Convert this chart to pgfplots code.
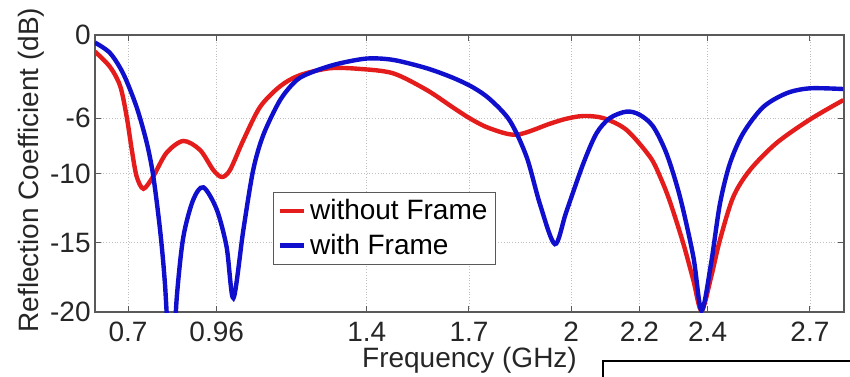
\documentclass[border=0pt]{standalone}
\usepackage{fontspec}
\setmainfont{Liberation Sans}
\usepackage{pgfplots}
\pgfplotsset{compat=1.18}
\definecolor{myred}{RGB}{228,28,28}
\definecolor{myblue}{RGB}{15,15,205}
\begin{document}
\begin{tikzpicture}
\begin{axis}[
 at={(0,0)}, anchor=south west,
 scale only axis, width=374.5pt, height=138.5pt,
 xmin=0.603, xmax=2.80, ymin=-20, ymax=0,
 xtick={0.7,0.96,1.4,1.7,2,2.2,2.4,2.7},
 xticklabels={0.7,0.96,1.4,1.7,2,2.2,2.4,2.7},
 ytick={-20,-15,-10,-6,0},
 yticklabels={-20,-15,-10,-6,0},
 tick align=inside, major tick length=3pt,
 tick style={gray!70!black, line width=0.5pt},
 axis line style={gray!70!black, line width=0.6pt},
 grid=major, grid style={densely dotted, gray!50, line width=0.4pt},
 font=\fontsize{14}{16}\selectfont,
 ticklabel style={font=\fontsize{14}{16}\selectfont, text=black!85},
 xticklabel style={anchor=north, inner sep=0pt, yshift=-5pt},
 yticklabel style={anchor=east, inner sep=0pt, xshift=-2pt},
 xlabel={Frequency (GHz)}, ylabel={Reflection Coefficient (dB)},
 label style={font=\fontsize{14}{16}\selectfont, text=black!85},
 xlabel style={at={(axis description cs:0.5,-0.126)}, anchor=north, inner sep=0pt},
 ylabel style={at={(axis description cs:-0.0668,0.512)}, anchor=south, inner sep=0pt},
 clip=true,
 legend style={at={(axis description cs:0.238,0.433)}, anchor=north west,
   draw=gray!70!black, fill=white, font=\fontsize{14}{16}\selectfont,
   inner xsep=2pt, inner ysep=1.5pt, row sep=1.5pt, cells={anchor=west}},
 legend image code/.code={\draw[#1] (0pt,0pt) -- (12pt,0pt);},
]
\addplot[myred, line width=2.2pt, smooth] coordinates {
(0.603,-1.2) (0.647,-2.3) (0.677,-3.7) (0.696,-5.9) (0.711,-8.3) (0.725,-10.2)
(0.745,-11.1) (0.774,-10.2) (0.813,-8.5) (0.862,-7.65) (0.911,-8.3) (0.95,-9.75)
(0.975,-10.25) (0.999,-9.75) (1.038,-7.6) (1.087,-5.2) (1.146,-3.7) (1.204,-2.9)
(1.292,-2.4) (1.38,-2.45) (1.478,-2.77) (1.576,-3.97) (1.654,-5.25) (1.708,-6.1)
(1.762,-6.75) (1.84,-7.2) (1.938,-6.4) (1.985,-6.05) (2.035,-5.85) (2.094,-6.0)
(2.162,-6.85) (2.231,-8.8) (2.26,-10.2) (2.289,-12.0) (2.328,-15.0) (2.358,-17.7)
(2.382,-19.9) (2.41,-17.5) (2.436,-14.8) (2.475,-11.7) (2.524,-9.75) (2.602,-7.8)
(2.70,-6.1) (2.798,-4.7)
};
\addlegendentry{without Frame}
\addplot[myblue, line width=2.2pt, smooth] coordinates {
(0.603,-0.55) (0.647,-1.3) (0.686,-2.8) (0.725,-5.2) (0.755,-7.8) (0.774,-10.2)
(0.794,-14.1) (0.808,-17.9) (0.827,-25) (0.843,-18.9) (0.862,-14.6) (0.891,-11.9)
(0.921,-11.0) (0.96,-12.6) (0.989,-15.3) (1.009,-19.0) (1.038,-14.1) (1.067,-9.75)
(1.097,-7.2) (1.146,-4.7) (1.195,-3.25) (1.243,-2.65) (1.312,-2.1) (1.40,-1.7)
(1.478,-1.8) (1.576,-2.4) (1.654,-3.1) (1.713,-3.8) (1.762,-4.65) (1.82,-6.2)
(1.869,-8.8) (1.908,-12.2) (1.952,-15.1) (1.985,-12.8) (2.035,-9.3) (2.074,-7.1)
(2.113,-6.0) (2.162,-5.53) (2.2,-5.75) (2.24,-6.6) (2.28,-8.6) (2.319,-11.7)
(2.358,-16.0) (2.382,-19.9) (2.41,-16.5) (2.436,-12.2) (2.465,-9.3) (2.504,-7.1)
(2.563,-5.2) (2.632,-4.2) (2.70,-3.85) (2.798,-3.9)
};
\addlegendentry{with Frame}
\end{axis}
\draw[black, line width=1pt] (254pt,-24.5pt) rectangle (420pt,-60pt);
\pgfresetboundingbox
\path[use as bounding box] (-47.5pt,-32pt) rectangle (377.5pt,156pt);
\end{tikzpicture}
\end{document}
